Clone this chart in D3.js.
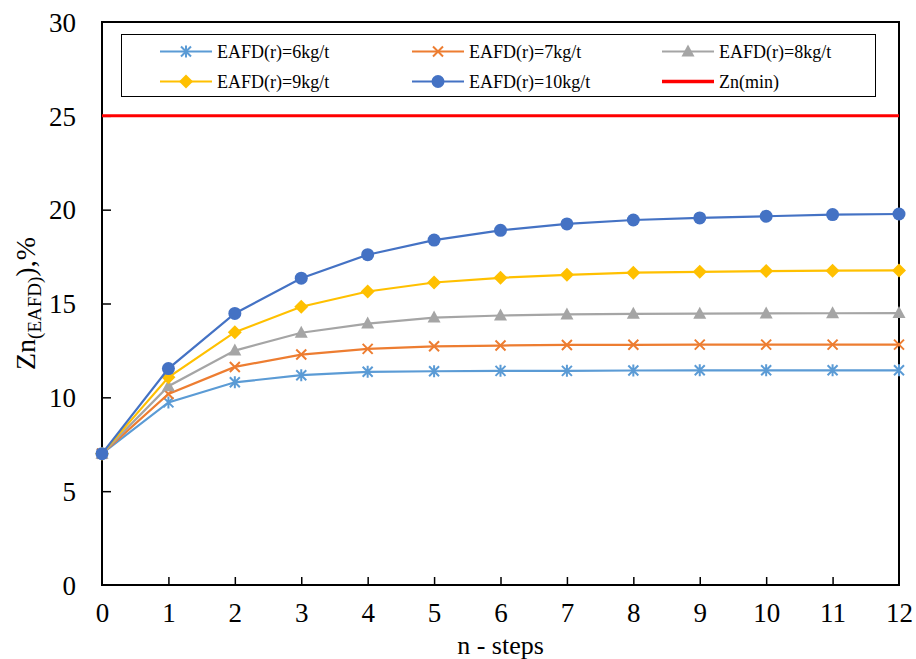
<!DOCTYPE html>
<html>
<head>
<meta charset="utf-8">
<script src="https://cdn.jsdelivr.net/npm/d3@7"></script>
<style>
  body { margin: 0; background: #fff; }
  svg text { font-family: "Liberation Serif", "Times New Roman", serif !important; }
</style>
</head>
<body>
<svg id="chart" width="916" height="659"></svg>
<script>
// data
const steps = [0, 1, 2, 3, 4, 5, 6, 7, 8, 9, 10, 11, 12];
const zn6 = [7.0, 9.73, 10.8, 11.18, 11.36, 11.39, 11.41, 11.41, 11.43, 11.44, 11.44, 11.44, 11.44];
const zn7 = [7.0, 10.18, 11.62, 12.28, 12.58, 12.72, 12.76, 12.79, 12.8, 12.81, 12.81, 12.81, 12.81];
const zn8 = [7.0, 10.59, 12.49, 13.44, 13.93, 14.25, 14.36, 14.42, 14.45, 14.46, 14.47, 14.48, 14.49];
const zn9 = [7.0, 11.07, 13.47, 14.83, 15.64, 16.12, 16.37, 16.53, 16.64, 16.69, 16.73, 16.75, 16.76];
const zn10 = [7.0, 11.53, 14.47, 16.35, 17.6, 18.38, 18.9, 19.24, 19.45, 19.56, 19.65, 19.74, 19.77];
const znMin = 25;
const yTicks = [0, 5, 10, 15, 20, 25, 30];

const series = [
  { name: "EAFD(r)=6kg/t", values: zn6, color: "#5B9BD5", marker: "star" },
  { name: "EAFD(r)=7kg/t", values: zn7, color: "#ED7D31", marker: "x" },
  { name: "EAFD(r)=8kg/t", values: zn8, color: "#A5A5A5", marker: "triangle" },
  { name: "EAFD(r)=9kg/t", values: zn9, color: "#FFC000", marker: "diamond" },
  { name: "EAFD(r)=10kg/t", values: zn10, color: "#4472C4", marker: "circle" }
];

const svg = d3.select("#chart");
const margin = { left: 102, right: 17, top: 22, bottom: 74 };
const W = 916, H = 659;
const x = d3.scaleLinear().domain([0, 12]).range([margin.left, W - margin.right]);
const y = d3.scaleLinear().domain([0, 30]).range([H - margin.bottom, margin.top]);

// marker drawing
function drawMarker(g, type, color) {
  if (type === "circle") {
    g.append("circle").attr("r", 6.5).attr("fill", color);
  } else if (type === "diamond") {
    g.append("path").attr("d", "M0,-7L7,0L0,7L-7,0Z").attr("fill", color);
  } else if (type === "triangle") {
    g.append("path").attr("d", "M0,-7L6.5,5L-6.5,5Z").attr("fill", color);
  } else if (type === "x") {
    g.append("path").attr("d", "M-5,-5L5,5M-5,5L5,-5")
      .attr("stroke", color).attr("stroke-width", 2);
  } else if (type === "star") {
    g.append("path").attr("d", "M-5,-5L5,5M-5,5L5,-5M0,-6L0,6")
      .attr("stroke", color).attr("stroke-width", 2);
  }
}

// axes, ticks pointing inwards
const xAxis = d3.axisBottom(x).tickValues(steps).tickSize(-8).tickPadding(18).tickFormat(d3.format("d"));
const yAxis = d3.axisLeft(y).tickValues(yTicks).tickSize(-9).tickPadding(26).tickFormat(d3.format("d"));

const gx = svg.append("g").attr("transform", `translate(0,${y(0)})`).call(xAxis);
const gy = svg.append("g").attr("transform", `translate(${x(0)},0)`).call(yAxis);
[gx, gy].forEach(g => {
  g.attr("font-family", null);
  g.select(".domain").remove();
  g.selectAll(".tick line").attr("stroke", "#000").attr("stroke-width", 1.5);
  g.selectAll(".tick text").attr("fill", "#000").attr("font-size", "27px");
});
gy.selectAll(".tick text").attr("dy", "0.34em");
gy.selectAll(".tick").filter(d => d === 0 || d === 30).select("line").remove();
gx.selectAll(".tick").filter(d => d === 0 || d === 12).select("line").remove();

// plot frame
svg.append("rect")
  .attr("x", x(0)).attr("y", y(30))
  .attr("width", x(12) - x(0)).attr("height", y(0) - y(30))
  .attr("fill", "none").attr("stroke", "#000").attr("stroke-width", 2);

// minimum line
svg.append("line")
  .attr("x1", x(0)).attr("x2", x(12))
  .attr("y1", y(znMin)).attr("y2", y(znMin))
  .attr("stroke", "#FF0000").attr("stroke-width", 3);

const line = d3.line().x((d, i) => x(steps[i])).y(d => y(d));

series.forEach(s => {
  svg.append("path").datum(s.values)
    .attr("d", line).attr("fill", "none")
    .attr("stroke", s.color).attr("stroke-width", 2.2);
  s.values.forEach((v, i) => {
    const g = svg.append("g").attr("transform", `translate(${x(steps[i])},${y(v)})`);
    drawMarker(g, s.marker, s.color);
  });
});

// legend
const legend = svg.append("g");
legend.append("rect")
  .attr("x", 121.5).attr("y", 34.5).attr("width", 754).attr("height", 62)
  .attr("fill", "#fff").attr("stroke", "#000").attr("stroke-width", 1);

const legendItems = series.map(s => ({ name: s.name, color: s.color, marker: s.marker, width: 2 }))
  .concat([{ name: "Zn(min)", color: "#FF0000", marker: null, width: 3.5 }]);
const colX = [160, 412, 662];
const rowY = [51.5, 81.5];

legendItems.forEach((d, i) => {
  const lx = colX[i % 3], ly = rowY[Math.floor(i / 3)];
  const g = legend.append("g").attr("transform", `translate(${lx},${ly})`);
  g.append("line").attr("x1", 0).attr("x2", 52).attr("y1", 0).attr("y2", 0)
    .attr("stroke", d.color).attr("stroke-width", d.width);
  if (d.marker) {
    drawMarker(g.append("g").attr("transform", "translate(26,0)"), d.marker, d.color);
  }
  g.append("text").attr("x", 57).attr("y", 0).attr("dy", "0.34em")
    .attr("font-size", "18px").attr("fill", "#000").text(d.name);
});

// axis titles
svg.append("text")
  .attr("x", (x(0) + x(12)) / 2).attr("y", 654)
  .attr("text-anchor", "middle").attr("font-size", "26px").text("n - steps");

const yt = svg.append("text")
  .attr("transform", `translate(35,${(y(0) + y(30)) / 2}) rotate(-90)`)
  .attr("text-anchor", "middle").attr("font-size", "28px");
yt.append("tspan").text("Zn");
yt.append("tspan").attr("font-size", "19px").attr("dy", "6").text("(EAFD)");
yt.append("tspan").attr("dy", "-6").text("),%");
</script>
</body>
</html>
